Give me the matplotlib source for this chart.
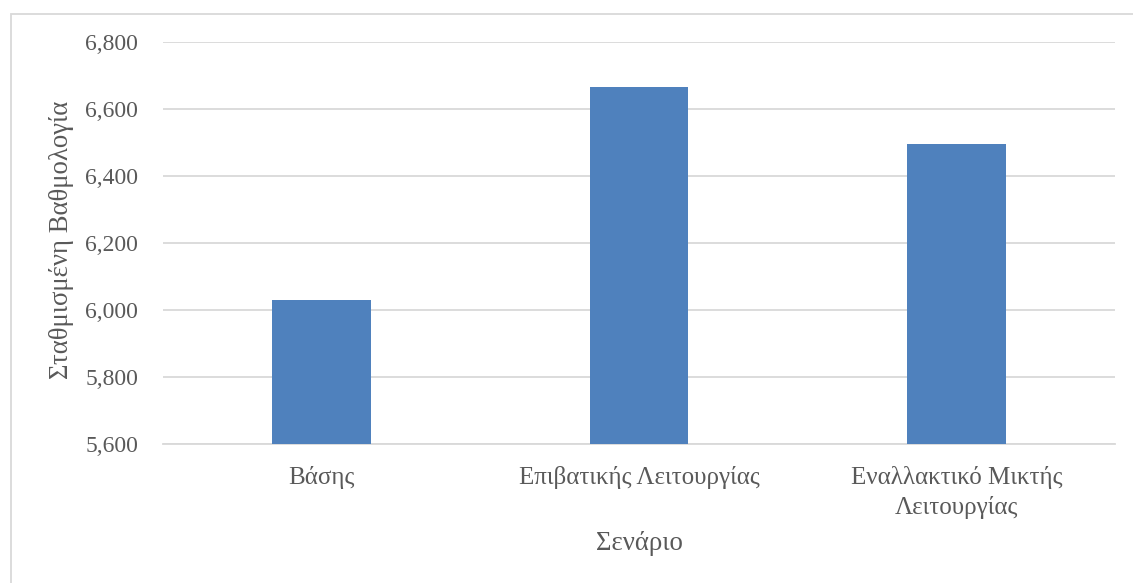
import matplotlib
matplotlib.use("Agg")
import matplotlib.pyplot as plt
from matplotlib.patches import Rectangle
from matplotlib.ticker import FuncFormatter, MultipleLocator

# Weighted score per scenario
scenarios = ["Βάσης", "Επιβατικής Λειτουργίας", "Εναλλακτικό Μικτής\nΛειτουργίας"]
scores = [6031, 6666, 6497]

y_min, y_max, y_step = 5600, 6800, 200

plt.rcParams["font.family"] = ["Liberation Serif", "DejaVu Serif"]
TEXT = "#595959"
GRID = "#D9D9D9"
BAR = "#4F81BD"

fig = plt.figure(figsize=(11.33, 5.83), dpi=100)
W, H = 1133, 583

# light chart-area border (top and left edges visible)
fig.patches.append(Rectangle((10.8 / W, -0.1), 1.2, 1 - 13.5 / H + 0.1,
                             transform=fig.transFigure, fill=False,
                             edgecolor=GRID, linewidth=1.3))

ax = fig.add_axes([163 / W, 1 - 444.3 / H, (1115 - 163) / W, (444.3 - 42) / H])

x = range(len(scenarios))
ax.bar(x, scores, width=0.31, color=BAR, zorder=3)

ax.set_xlim(-0.5, len(scenarios) - 0.5)
ax.set_ylim(y_min, y_max)
ax.yaxis.set_major_locator(MultipleLocator(y_step))
ax.yaxis.set_major_formatter(FuncFormatter(lambda v, p: f"{int(v):,}"))
ax.grid(axis="y", color=GRID, linewidth=1.3, zorder=0)

for s in ["top", "right", "left"]:
    ax.spines[s].set_visible(False)
ax.spines["bottom"].set_color(GRID)
ax.spines["bottom"].set_linewidth(1.3)

ax.set_xticks(list(x))
ax.set_xticklabels(scenarios, linespacing=1.37, fontsize=18)
ax.tick_params(axis="both", length=0, labelcolor=TEXT)
ax.tick_params(axis="x", pad=15.6)
ax.tick_params(axis="y", pad=18, labelsize=17)

# axis titles
fig.text(62 / W, 1 - 240 / H, "Σταθμισμένη Βαθμολογία", rotation=90,
         ha="center", va="center", color=TEXT, fontsize=19.3)
fig.text(639 / W, 1 - 543.8 / H, "Σενάριο", ha="center", va="center",
         color=TEXT, fontsize=19.3)

fig.savefig("out.png", dpi=100, facecolor="white")
